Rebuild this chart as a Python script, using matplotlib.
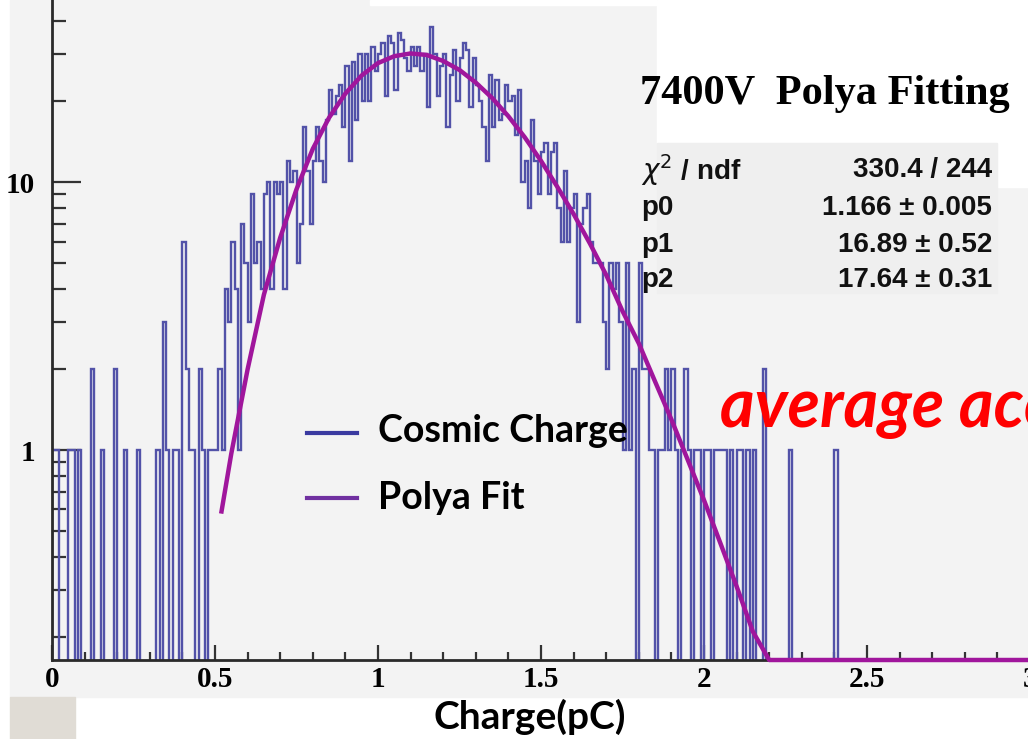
import numpy as np
import matplotlib.pyplot as plt
from matplotlib.patches import Rectangle
from matplotlib.ticker import LogLocator, FixedLocator, MultipleLocator, NullFormatter, FuncFormatter

# histogram: 300 bins of 0.01 pC between 0 and 3 pC
bin_width = 0.01
left_tail = [1, 1, 0, 0, 0, 1, 1, 0, 1, 0,
             0, 0, 2, 0, 0, 1, 0, 0, 0, 2,
             0, 0, 1, 0, 0, 0, 1, 0, 0, 0,
             0, 0, 1, 0, 3, 1, 0, 1, 1, 0,
             6, 2, 1, 1, 0, 2, 1, 0, 1, 1,
             1]
core = [2, 1, 4, 3, 6, 4, 1, 7, 5,
        3, 9, 5, 6, 4, 9, 10, 4, 10, 9,
        10, 4, 12, 10, 11, 5, 7, 16, 11, 7,
        12, 16, 12, 10, 17, 22, 18, 21, 23, 16,
        27, 12, 28, 17, 30, 20, 30, 20, 32, 26,
        30, 33, 21, 35, 33, 22, 36, 34, 29, 26,
        32, 27, 32, 26, 30, 19, 38, 30, 21, 27,
        30, 16, 25, 31, 20, 29, 33, 31, 19, 29,
        23, 20, 16, 12, 25, 16, 24, 17, 18, 23,
        20, 21, 15, 22, 10, 12, 8, 17, 12, 9,
        13, 14, 9, 13, 14, 8, 6, 11, 6, 8,
        9, 3, 7, 8, 9, 6, 5, 5, 5, 3,
        2, 5, 4, 5, 3, 1, 5, 1, 2, 0]
right_tail = [5, 2, 2, 1, 1, 0, 1, 1, 2, 1,
              2, 1, 0, 1, 2, 1, 0, 1, 1, 0,
              1, 1, 0, 1, 1, 1, 1, 0, 1, 0,
              1, 1, 0, 1, 0, 1, 0, 0, 2, 0,
              0, 0, 0, 0, 0, 0, 1, 0, 0, 0,
              0, 0, 0, 0, 0, 0, 0, 0, 0, 0,
              1]

# Polya fit curve
fit_x = [0.52, 0.55, 0.60, 0.65, 0.70, 0.75, 0.80, 0.85, 0.90, 0.95,
         1.00, 1.05, 1.10, 1.15, 1.20, 1.25, 1.30, 1.35, 1.40, 1.45,
         1.50, 1.55, 1.60, 1.65, 1.70, 1.75, 1.80, 1.85, 1.90, 1.95,
         2.00, 2.05, 2.10, 2.15, 2.20]
fit_y = [0.59, 0.97, 2.0, 3.8, 6.2, 9.4, 13.3, 17.4, 21.4, 25.0,
         27.8, 29.5, 30.2, 29.8, 28.3, 26.2, 23.5, 20.6, 17.6, 14.7,
         12.0, 9.6, 7.6, 5.9, 4.5, 3.3, 2.5, 1.8, 1.3, 0.92,
         0.65, 0.45, 0.31, 0.21, 0.14]

stat_names = [r"$\chi^2$ / ndf", "p0", "p1", "p2"]
stat_values = [u"330.4 / 244", u"1.166 \u00b1 0.005", u"16.89 \u00b1 0.52", u"17.64 \u00b1 0.31"]

W, H = 1028, 739
fig = plt.figure(figsize=(W / 100, H / 100), dpi=100, facecolor="white")


def fx(x):
    return x / W


def fy(y):
    return 1 - y / H


def box(x0, y0, x1, y1, color, **kw):
    fig.patches.append(Rectangle((fx(x0), fy(y1)), (x1 - x0) / W, (y1 - y0) / H,
                                 transform=fig.transFigure, color=color, zorder=0, **kw))


# canvas background and the pasted boxes
box(10, 0, 1028, 697, "#f3f3f3")
box(10, 697, 75, 739, "#e0dcd5")
box(370, 0, 657, 5, "white")
box(657, 0, 1028, 143, "white")
box(997, 143, 1028, 187, "white")
box(657, 143, 997, 293, "#efefef")

y_floor, y_top = 0.1646, 47.8
ax = fig.add_axes([fx(52), fy(660), (1030 - 52) / W, 660 / H])
ax.set_zorder(2)
ax.patch.set_alpha(0)

counts = np.array(left_tail + core + right_tail, dtype=float)
counts = np.concatenate([counts, np.zeros(300 - len(counts))])
edges = np.arange(301) * bin_width
ax.stairs(np.where(counts > 0, counts, 1e-3), edges, baseline=1e-3,
          color="#5252a8", linewidth=1.7, zorder=2)

curve_x = fit_x + [3.0]
curve_y = list(np.clip(fit_y, y_floor, None)) + [y_floor]
ax.plot(curve_x, curve_y, color="#a0169c", linewidth=3.2, zorder=3, clip_on=False)

ax.set_yscale("log")
ax.set_xlim(0, 3.0)
ax.set_ylim(y_floor, y_top)

for s in ["top", "right"]:
    ax.spines[s].set_visible(False)
for s in ["left", "bottom"]:
    ax.spines[s].set_color("#2a2a2a")
    ax.spines[s].set_linewidth(2)

ax.xaxis.set_major_locator(MultipleLocator(0.5))
ax.xaxis.set_minor_locator(MultipleLocator(0.1))
ax.xaxis.set_major_formatter(FuncFormatter(lambda v, p: "%g" % v))
ax.yaxis.set_major_locator(FixedLocator([1, 10]))
ax.yaxis.set_minor_locator(LogLocator(base=10, subs=np.arange(2, 10)))
ax.yaxis.set_major_formatter(FuncFormatter(lambda v, p: "%g" % v))
ax.yaxis.set_minor_formatter(NullFormatter())

tick_font = {"family": "Liberation Serif", "weight": "bold", "size": 21}
ax.tick_params(axis="both", which="both", direction="in", color="#333333", width=1.6)
ax.tick_params(axis="x", which="major", length=11, pad=4)
ax.tick_params(axis="x", which="minor", length=6)
ax.tick_params(axis="y", which="major", length=21, pad=12)
ax.tick_params(axis="y", which="minor", length=10)
for lab in ax.get_xticklabels() + ax.get_yticklabels():
    lab.set_fontproperties(tick_font)

# title and stats box
fig.text(fx(640), fy(94), "7400V  Polya Fitting", family="Liberation Serif", weight="bold",
         fontsize=30.5, va="center", ha="left", zorder=5)
rows_y = [170, 208, 245, 280]
for name, val, yy in zip(stat_names, stat_values, rows_y):
    fig.text(fx(641), fy(yy), name, family="Liberation Sans", weight="bold", fontsize=20,
             va="center", ha="left", color="#111111", zorder=5)
    fig.text(fx(992), fy(yy), val, family="Liberation Sans", weight="bold", fontsize=20,
             va="center", ha="right", color="#111111", zorder=5)

# legend
fig.lines.append(plt.Line2D([fx(307), fx(357)], [fy(433), fy(433)], transform=fig.transFigure,
                            color="#3a3aa0", linewidth=3, zorder=5))
fig.lines.append(plt.Line2D([fx(307), fx(357)], [fy(498), fy(498)], transform=fig.transFigure,
                            color="#7030a0", linewidth=3, zorder=5))
fig.text(fx(378), fy(431), "Cosmic Charge", family="Lato", weight="bold", fontsize=27,
         va="center", ha="left", zorder=5)
fig.text(fx(378), fy(498), "Polya Fit", family="Lato", weight="bold", fontsize=27,
         va="center", ha="left", zorder=5)

fig.text(fx(720), fy(408), "average acc", family="Lato", weight="bold", style="italic",
         fontsize=48, color="red", va="center", ha="left", zorder=5)

fig.text(fx(530), fy(717), "Charge(pC)", family="Lato", weight="bold", fontsize=28,
         va="center", ha="center", zorder=5)

fig.savefig("out.png", dpi=100, facecolor="white")
